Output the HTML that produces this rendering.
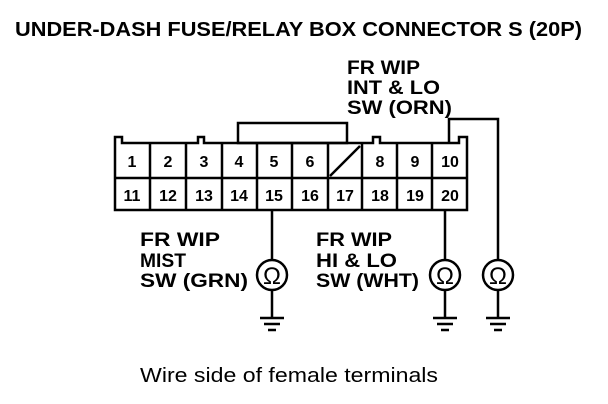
<!DOCTYPE html>
<html><head><style>
body{margin:0;background:#fff;width:608px;height:404px;overflow:hidden}
svg{display:block}
text{font-family:"Liberation Sans",sans-serif;fill:#000}
.b{font-weight:bold;font-size:19px}
.n{font-size:16px;font-weight:bold}
</style></head><body>
<svg width="608" height="404" viewBox="0 0 608 404">
<text x="15" y="36" font-weight="bold" font-size="20" textLength="567" lengthAdjust="spacingAndGlyphs">UNDER-DASH FUSE/RELAY BOX CONNECTOR S (20P)</text>
<text class="b" x="347" y="74" textLength="73" lengthAdjust="spacingAndGlyphs">FR WIP</text>
<text class="b" x="347" y="94" textLength="93" lengthAdjust="spacingAndGlyphs">INT &amp; LO</text>
<text class="b" x="347" y="114" textLength="105" lengthAdjust="spacingAndGlyphs">SW (ORN)</text>
<g fill="none" stroke="#000" stroke-width="2.5">
<rect x="238" y="123" width="109" height="20"/>
<path d="M115,210 V137 H122 V143 H198 V137 H204 V143 H373 V137 H380 V143 H459 V137 H467 V210 Z"/>
<path d="M115,178 H467"/>
<path d="M150,143V210 M186,143V210 M222,143V210 M257,143V210 M292,143V210 M328,143V210 M362,143V210 M397,143V210 M432,143V210"/>
<path d="M330,176 L360,146"/>
<path d="M449,143 V119 H498 V260"/>
<path d="M272,210 V260 M445,210 V260"/>
<circle cx="272" cy="275" r="15"/><circle cx="445" cy="275" r="15"/><circle cx="498" cy="275" r="15"/>
<path d="M272,290V318 M445,290V318 M498,290V318"/>
<path d="M260,318h24 M264,324h16 M268,330h8"/>
<path d="M433,318h24 M437,324h16 M441,330h8"/>
<path d="M486,318h24 M490,324h16 M494,330h8"/>
</g>
<g text-anchor="middle">
<text class="n" x="132" y="167">1</text><text class="n" x="168" y="167">2</text><text class="n" x="204" y="167">3</text><text class="n" x="239" y="167">4</text><text class="n" x="274" y="167">5</text><text class="n" x="310" y="167">6</text><text class="n" x="380" y="167">8</text><text class="n" x="415" y="167">9</text><text class="n" x="450" y="167">10</text>
<text class="n" x="132" y="201">11</text><text class="n" x="168" y="201">12</text><text class="n" x="204" y="201">13</text><text class="n" x="239" y="201">14</text><text class="n" x="274" y="201">15</text><text class="n" x="310" y="201">16</text><text class="n" x="345" y="201">17</text><text class="n" x="380" y="201">18</text><text class="n" x="415" y="201">19</text><text class="n" x="450" y="201">20</text>
</g>
<g font-size="24" text-anchor="middle">
<text x="272" y="284">Ω</text><text x="445" y="284">Ω</text><text x="498" y="284">Ω</text>
</g>
<text class="b" x="140" y="246" textLength="80" lengthAdjust="spacingAndGlyphs">FR WIP</text>
<text class="b" x="140" y="267" textLength="46" lengthAdjust="spacingAndGlyphs">MIST</text>
<text class="b" x="140" y="287" textLength="108" lengthAdjust="spacingAndGlyphs">SW (GRN)</text>
<text class="b" x="316" y="246" textLength="76" lengthAdjust="spacingAndGlyphs">FR WIP</text>
<text class="b" x="316" y="267" textLength="81" lengthAdjust="spacingAndGlyphs">HI &amp; LO</text>
<text class="b" x="316" y="287" textLength="103" lengthAdjust="spacingAndGlyphs">SW (WHT)</text>
<text x="140" y="382" font-size="20" textLength="298" lengthAdjust="spacingAndGlyphs">Wire side of female terminals</text>
</svg>
</body></html>
